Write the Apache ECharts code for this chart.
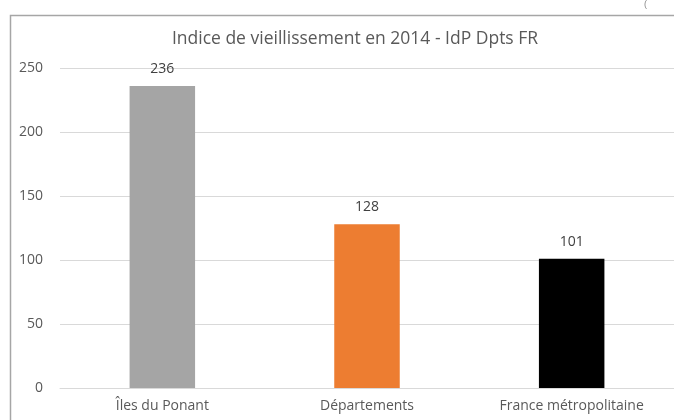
<!DOCTYPE html>
<html><head><meta charset="utf-8">
<script src="https://cdn.jsdelivr.net/npm/echarts@6/dist/echarts.min.js"></script>
<style>html,body{margin:0;padding:0;background:#fff}#c{width:674px;height:420px}</style>
</head><body><div id="c"></div>
<script>
const categories = ["Îles du Ponant", "Départements", "France métropolitaine"];
const values = [236, 128, 101];
const colors = ["#a5a5a5", "#ed7d31", "#000000"];
const yTicks = [0, 50, 100, 150, 200, 250];

const chart = echarts.init(document.getElementById('c'));
const font = "'Open Sans', 'Noto Sans', sans-serif";
chart.setOption({
  animation: false,
  backgroundColor: '#fff',
  title: {
    text: 'Indice de vieillissement en 2014 - IdP Dpts FR',
    left: 350, top: 25, textAlign: 'center',
    textStyle: {fontFamily: font, fontSize: 17.5, fontWeight: 'normal', color: '#595959'}
  },
  graphic: [
    {type: 'rect', left: 8, top: 13, shape: {width: 700, height: 450},
     style: {fill: 'none', stroke: '#a6a6a6', lineWidth: 1.5}, z: 100},
    {type: 'text', left: 644, top: 0, style: {text: '(', fill: '#888', font: '9px sans-serif'}}
  ],
  grid: {left: 60, right: 0, top: 68, bottom: 32, containLabel: false},
  xAxis: {
    type: 'category', data: categories,
    axisLine: {lineStyle: {color: '#d9d9d9', width: 1}},
    axisTick: {show: false},
    axisLabel: {fontFamily: font, fontSize: 14, color: '#595959', margin: 11}
  },
  yAxis: {
    type: 'value', min: 0, max: 250, interval: 50,
    axisLine: {show: false}, axisTick: {show: false},
    splitLine: {lineStyle: {color: '#d9d9d9', width: 1}},
    axisLabel: {fontFamily: font, fontSize: 14, color: '#595959', margin: 17,
      formatter: v => yTicks.includes(v) ? String(v) : ''}
  },
  series: [{
    type: 'bar', barWidth: '32%',
    data: values.map((v, i) => ({value: v, itemStyle: {color: colors[i]}})),
    label: {show: true, position: 'top', distance: 10, fontFamily: font, fontSize: 14, color: '#404040'}
  }]
});
</script></body></html>
